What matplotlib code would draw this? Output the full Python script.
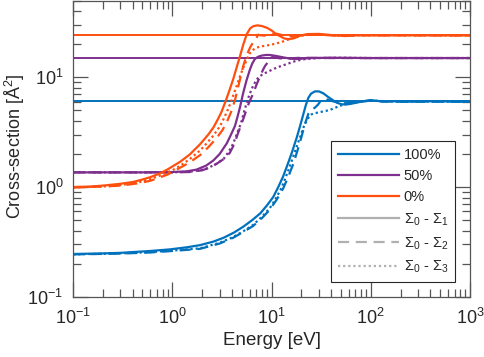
import numpy as np
import matplotlib
matplotlib.use("Agg")
import matplotlib.pyplot as plt
from matplotlib.lines import Line2D
from matplotlib.ticker import LogLocator

plt.rcParams['font.family'] = ['Liberation Sans', 'DejaVu Sans']
plt.rcParams['mathtext.default'] = 'regular'
plt.rcParams['mathtext.fontset'] = 'custom'
plt.rcParams['mathtext.rm'] = 'Liberation Sans'
plt.rcParams['mathtext.it'] = 'Liberation Sans:italic'

# ---------------- data ----------------
series_labels = ["100%", "50%", "0%"]
method_labels = [r"$\Sigma_0$ - $\Sigma_1$", r"$\Sigma_0$ - $\Sigma_2$", r"$\Sigma_0$ - $\Sigma_3$"]
asymptote = [6.05, 15.0, 24.1]

# 0% (orange)
e_or_1 = [0.1, 0.15, 0.2, 0.3, 0.4, 0.5, 0.6, 0.75, 0.9, 1.2, 1.5, 1.9, 2.3, 2.6, 2.9, 3.15, 3.5, 3.8, 4.12, 4.45, 4.82, 5.2, 5.63, 6.1, 6.56, 7.2, 7.96, 9.0, 10, 11, 12.2, 13.5, 15, 17, 19.4, 23, 30, 40, 55, 80, 120, 200, 1000]
v_or_1 = [1.0, 1.01, 1.03, 1.07, 1.11, 1.17, 1.23, 1.33, 1.45, 1.7, 1.98, 2.45, 3.0, 3.5, 4.2, 4.9, 6.3, 7.8, 9.7, 12.3, 15.7, 20, 24.8, 28, 29.3, 29.8, 29.4, 28.3, 26.8, 25, 23.7, 22.6, 22.3, 22.8, 24.0, 24.8, 24.9, 24.3, 23.8, 24.3, 24.1, 24.2, 24.1]
e_or_2 = [0.1, 0.2, 0.3, 0.45, 0.6, 0.9, 1.2, 1.5, 1.9, 2.3, 2.8, 3.2, 3.54, 3.9, 4.28, 4.7, 5.2, 5.6, 6.06, 6.5, 6.9, 7.1, 7.3, 7.7, 8.5, 10, 11.3, 13, 15, 20, 30, 50, 100, 1000]
v_or_2 = [0.99, 1.01, 1.03, 1.08, 1.14, 1.3, 1.5, 1.68, 1.95, 2.3, 2.8, 3.3, 3.9, 4.8, 6.2, 8.8, 12.8, 15.8, 18.6, 20.8, 22.3, 23.2, 24.5, 24.2, 24.0, 24.6, 25.0, 24.2, 23.6, 24.3, 24.5, 23.9, 24.2, 24.1]
e_or_3 = [0.1, 0.2, 0.3, 0.5, 0.75, 1.0, 1.2, 1.5, 1.9, 2.2, 2.6, 3.03, 3.3, 3.6, 3.9, 4.2, 4.5, 4.8, 5.15, 5.5, 5.8, 6.06, 6.5, 7.1, 8.0, 8.9, 10.5, 12.2, 15.3, 19.4, 25, 30, 50, 100, 1000]
v_or_3 = [0.99, 1.01, 1.04, 1.12, 1.27, 1.42, 1.56, 1.8, 2.15, 2.48, 2.95, 3.6, 4.2, 5.0, 6.0, 7.2, 8.6, 10.2, 12.0, 13.8, 15.5, 16.6, 17.8, 18.7, 19.2, 19.5, 20.1, 20.8, 22.4, 23.9, 24.6, 24.6, 24.0, 24.2, 24.1]

# 50% (purple)
e_pu_1 = [0.1, 0.5, 1.0, 1.4, 1.75, 2.2, 2.6, 3.0, 3.54, 3.9, 4.28, 4.55, 4.8, 5.2, 5.6, 6.06, 6.4, 6.8, 7.3, 7.96, 8.8, 9.6, 11, 13.2, 15.5, 17.9, 25, 40, 100, 1000]
v_pu_1 = [1.36, 1.36, 1.37, 1.39, 1.44, 1.57, 1.75, 2.0, 2.5, 3.0, 3.6, 4.4, 5.3, 7.3, 9.4, 11.8, 13.4, 14.7, 15.4, 15.8, 16.0, 16.0, 15.7, 15.2, 14.8, 14.7, 15.0, 15.1, 15.0, 15.0]
e_pu_2 = [0.1, 1.0, 1.5, 2.0, 2.4, 2.8, 3.3, 3.8, 4.2, 4.6, 5.0, 5.3, 5.6, 5.9, 6.2, 6.56, 7.1, 7.7, 8.2, 8.6, 9.1, 9.6, 9.8, 10.2, 11, 12.2, 15, 20, 40, 1000]
v_pu_2 = [1.36, 1.36, 1.37, 1.42, 1.51, 1.63, 1.8, 2.05, 2.45, 3.1, 3.8, 4.4, 5.1, 5.8, 6.4, 7.2, 8.7, 10.3, 11.7, 12.7, 13.6, 14.2, 15.0, 15.3, 15.1, 14.9, 14.9, 15.1, 15.0, 15.0]
e_pu_3 = [0.1, 1.0, 1.5, 1.9, 2.2, 2.7, 3.3, 3.7, 4.12, 4.5, 4.8, 5.0, 5.3, 5.6, 6.0, 6.5, 7.1, 7.7, 8.3, 9.3, 10.4, 12.2, 14.2, 17.9, 22, 30, 50, 100, 1000]
v_pu_3 = [1.36, 1.36, 1.38, 1.42, 1.47, 1.6, 1.81, 2.1, 2.5, 3.1, 3.6, 4.0, 4.9, 5.8, 7.0, 8.3, 9.6, 10.3, 10.8, 11.3, 11.9, 12.6, 13.2, 14.2, 14.7, 15.0, 15.1, 15.0, 15.0]

# 100% (blue)
e_bl_1 = [0.1, 0.2, 0.3, 0.6, 0.95, 1.4, 1.9, 2.6, 3.3, 4.2, 5.2, 6.4, 7.7, 9.0, 10.4, 11.7, 13.1, 14.5, 16, 17.9, 19.4, 20.9, 22.2, 23.5, 25, 27.4, 30, 33.3, 37, 42, 46, 51, 56, 62, 70, 78, 88, 98.6, 115, 133, 170, 250, 400, 1000]
v_bl_1 = [0.245, 0.248, 0.251, 0.261, 0.27, 0.282, 0.295, 0.318, 0.345, 0.385, 0.435, 0.5, 0.575, 0.68, 0.81, 1.0, 1.25, 1.6, 2.05, 2.8, 3.6, 4.6, 5.6, 6.5, 7.1, 7.45, 7.45, 7.15, 6.65, 6.15, 5.85, 5.68, 5.65, 5.72, 5.85, 5.97, 6.1, 6.2, 6.12, 6.0, 6.05, 6.0, 6.05, 6.0]
e_bl_2 = [0.1, 0.3, 0.6, 1.0, 1.9, 3.0, 4.12, 5.2, 6.5, 8.0, 9.6, 11.3, 13.1, 14.8, 16.6, 18.4, 20.0, 21.8, 23.5, 25.3, 27.4, 29.2, 30.7, 32, 34, 37, 40, 47, 55, 65, 80, 100, 130, 200, 1000]
v_bl_2 = [0.243, 0.247, 0.253, 0.261, 0.273, 0.305, 0.345, 0.39, 0.44, 0.52, 0.62, 0.77, 0.97, 1.25, 1.63, 2.2, 2.85, 3.8, 4.65, 5.05, 5.3, 5.6, 5.95, 6.35, 6.4, 6.25, 6.1, 5.9, 5.8, 5.85, 6.0, 6.15, 6.05, 6.0, 6.0]
e_bl_3 = [0.1, 0.3, 0.6, 1.0, 1.9, 3.0, 4.12, 5.2, 6.5, 8.0, 9.6, 11.0, 12.6, 14.0, 15.3, 17.2, 19.4, 21.0, 22.5, 24.0, 25.3, 27.5, 30.7, 34.5, 38.8, 43, 48.8, 55, 62, 70, 80, 100, 150, 1000]
v_bl_3 = [0.243, 0.248, 0.255, 0.263, 0.276, 0.31, 0.35, 0.395, 0.45, 0.535, 0.64, 0.78, 0.98, 1.25, 1.55, 2.1, 2.85, 3.5, 4.0, 4.4, 4.6, 4.72, 4.82, 4.92, 5.05, 5.25, 5.5, 5.68, 5.8, 5.92, 6.0, 6.15, 6.0, 6.0]

colors = ['#0072BD', '#7E2F8E', '#FF4F0F']
styles = ['-', (0, (5, 3)), (0, (1, 1.3))]

curves = [
    [(e_bl_1, v_bl_1), (e_bl_2, v_bl_2), (e_bl_3, v_bl_3)],
    [(e_pu_1, v_pu_1), (e_pu_2, v_pu_2), (e_pu_3, v_pu_3)],
    [(e_or_1, v_or_1), (e_or_2, v_or_2), (e_or_3, v_or_3)],
]

# ---------------- figure ----------------
fig = plt.figure(figsize=(4.84, 3.57), dpi=100)
ax = fig.add_axes([0.151, 0.169, 0.820, 0.829])

for c, group, a in zip(colors, curves, asymptote):
    ax.axhline(a, color=c, lw=1.4)
    for (e, v), ls in zip(group, styles):
        ax.plot(e, v, color=c, lw=1.6, linestyle=ls, solid_joinstyle='round')

ax.set_xscale('log')
ax.set_yscale('log')
ax.set_xlim(0.1, 1000)
ax.set_ylim(0.1, 50)

ax.xaxis.set_major_locator(LogLocator(base=10, numticks=10))
ax.xaxis.set_minor_locator(LogLocator(base=10, subs=np.arange(2, 10), numticks=20))
ax.yaxis.set_major_locator(LogLocator(base=10, numticks=10))
ax.yaxis.set_minor_locator(LogLocator(base=10, subs=np.arange(2, 10), numticks=20))
ax.yaxis.set_minor_formatter(plt.NullFormatter())
ax.xaxis.set_minor_formatter(plt.NullFormatter())

axcol = '#555555'
for s in ax.spines.values():
    s.set_color(axcol)
    s.set_linewidth(0.9)
ax.tick_params(which='both', direction='in', top=True, right=True, color=axcol,
               labelcolor='#262626', labelsize=13)
ax.tick_params(which='major', length=11, width=0.9)
ax.tick_params(which='minor', length=5.5, width=0.9)
ax.tick_params(axis='x', which='major', pad=8)
ax.tick_params(axis='y', which='major', pad=7)

ax.set_xlabel('Energy [eV]', fontsize=13.5, color='#262626', labelpad=3)
ax.set_ylabel('Cross-section [Å$^2$]', fontsize=13, color='#262626', va='center')
ax.yaxis.set_label_coords(-0.146, 0.507)

handles = [Line2D([], [], color=c, lw=1.6) for c in colors]
handles += [Line2D([], [], color='#b0b0b0', lw=1.6, linestyle=ls) for ls in styles]
leg = ax.legend(handles, series_labels + method_labels, loc='lower right',
                bbox_to_anchor=(0.962, 0.05), fontsize=10.5, handlelength=4.2,
                handletextpad=0.3, labelspacing=0.5, borderpad=0.45,
                fancybox=False, framealpha=1, edgecolor='#262626', borderaxespad=0)
leg.get_frame().set_linewidth(0.8)
for t in leg.get_texts():
    t.set_color('#262626')

fig.savefig('out.png', dpi=100)
